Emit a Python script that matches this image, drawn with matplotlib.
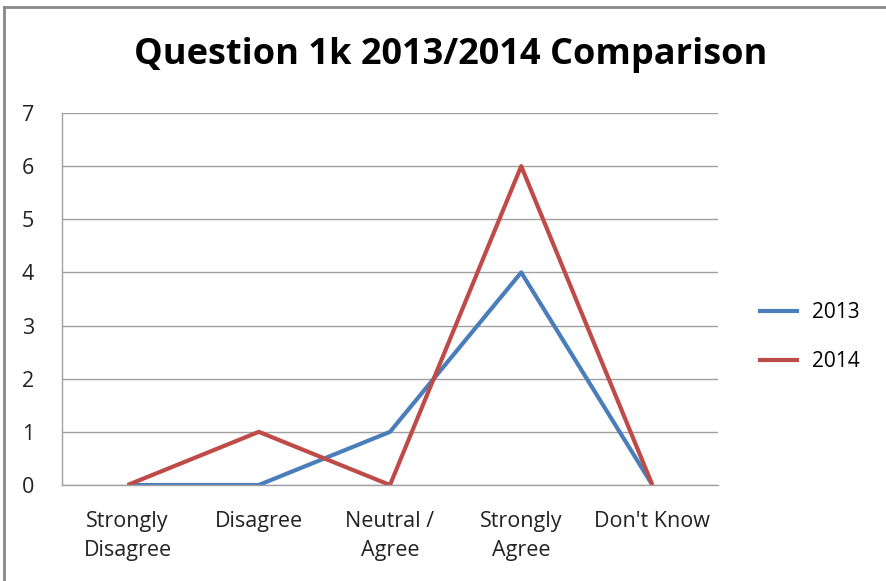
import matplotlib.pyplot as plt
from matplotlib.lines import Line2D

categories = ['Strongly\nDisagree', 'Disagree', 'Neutral /\nAgree', 'Strongly\nAgree', "Don't Know"]
values_2013 = [0, 0, 1, 4, 0]
values_2014 = [0, 1, 0, 6, 0]
series_names = ['2013', '2014']

plt.rcParams['font.family'] = ['Open Sans', 'DejaVu Sans']

W, H = 886, 581
fig = plt.figure(figsize=(W / 100, H / 100), dpi=100)
ax = fig.add_axes([62 / W, 1 - 485 / H, (718 - 62) / W, (485 - 113) / H])

x = range(len(categories))
ax.plot(x, values_2013, color='#4A7EBB', lw=3, label=series_names[0], solid_capstyle='butt')
ax.plot(x, values_2014, color='#BE4B48', lw=3, label=series_names[1], solid_capstyle='butt')

ax.set_xlim(-0.5, len(categories) - 0.5)
ax.set_ylim(0, 7)
ax.set_yticks(range(0, 8))
ax.set_xticks(list(x))
ax.set_xticklabels(categories, fontsize=15.5, color='#222222', linespacing=1.45)
ax.tick_params(axis='y', labelsize=15.5, colors='#222222', length=0, pad=20)
ax.tick_params(axis='x', length=0, pad=19)
ax.grid(axis='y', color='#A0A0A0', lw=1)
ax.set_axisbelow(True)
for side in ['top', 'right']:
    ax.spines[side].set_visible(False)
for side in ['left', 'bottom']:
    ax.spines[side].set_color('#A0A0A0')
    ax.spines[side].set_linewidth(1)

fig.text(451 / W, 1 - 55 / H, 'Question 1k 2013/2014 Comparison',
         ha='center', va='center', fontsize=26, fontweight='bold', color='black')

ax.legend(loc='center left', bbox_to_anchor=(739 / W, 1 - 337 / H), bbox_transform=fig.transFigure,
          frameon=False, fontsize=15, handlelength=2.0, handletextpad=0.6, labelspacing=1.35)

# chart border (only top and left are visible in the reference)
fig.add_artist(Line2D([4 / W, 1], [1 - 7 / H, 1 - 7 / H], transform=fig.transFigure, color='#888888', lw=2))
fig.add_artist(Line2D([4 / W, 4 / W], [0, 1 - 7 / H], transform=fig.transFigure, color='#888888', lw=2))

fig.savefig('out.png', dpi=100)
